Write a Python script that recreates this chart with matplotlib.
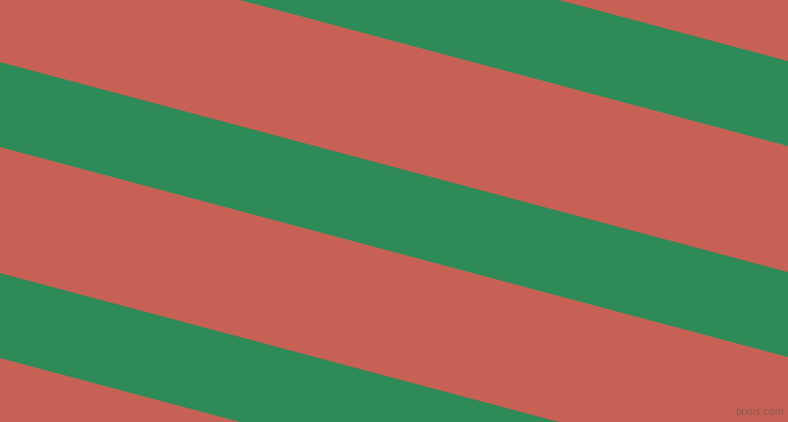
import numpy as np
import matplotlib.pyplot as plt

# couleurs du motif
fond = "#C86155"
bande = "#2E8B57"

# bandes vertes : ordonnée du bord haut à x=0, épaisseur verticale, pente
bords_haut = [-149, 62, 273]
epaisseur = [85, 85, 85]
pente = 0.2665

largeur, hauteur = 788, 422

fig = plt.figure(figsize=(largeur / 100, hauteur / 100), dpi=100)
ax = fig.add_axes([0, 0, 1, 1])
ax.set_facecolor(fond)
fig.patch.set_facecolor(fond)

x = np.array([-20, largeur + 20])
for haut, ep in zip(bords_haut, epaisseur):
    ax.fill_between(x, haut + pente * x, haut + ep + pente * x,
                    color=bande, linewidth=0)

ax.text(largeur - 4, hauteur - 5, "pixlis.com", ha="right", va="bottom",
        fontsize=7, color="#7a5a4a", alpha=0.8)

ax.set_xlim(0, largeur)
ax.set_ylim(hauteur, 0)
ax.axis("off")

fig.savefig("out.png", dpi=100, facecolor=fond)
